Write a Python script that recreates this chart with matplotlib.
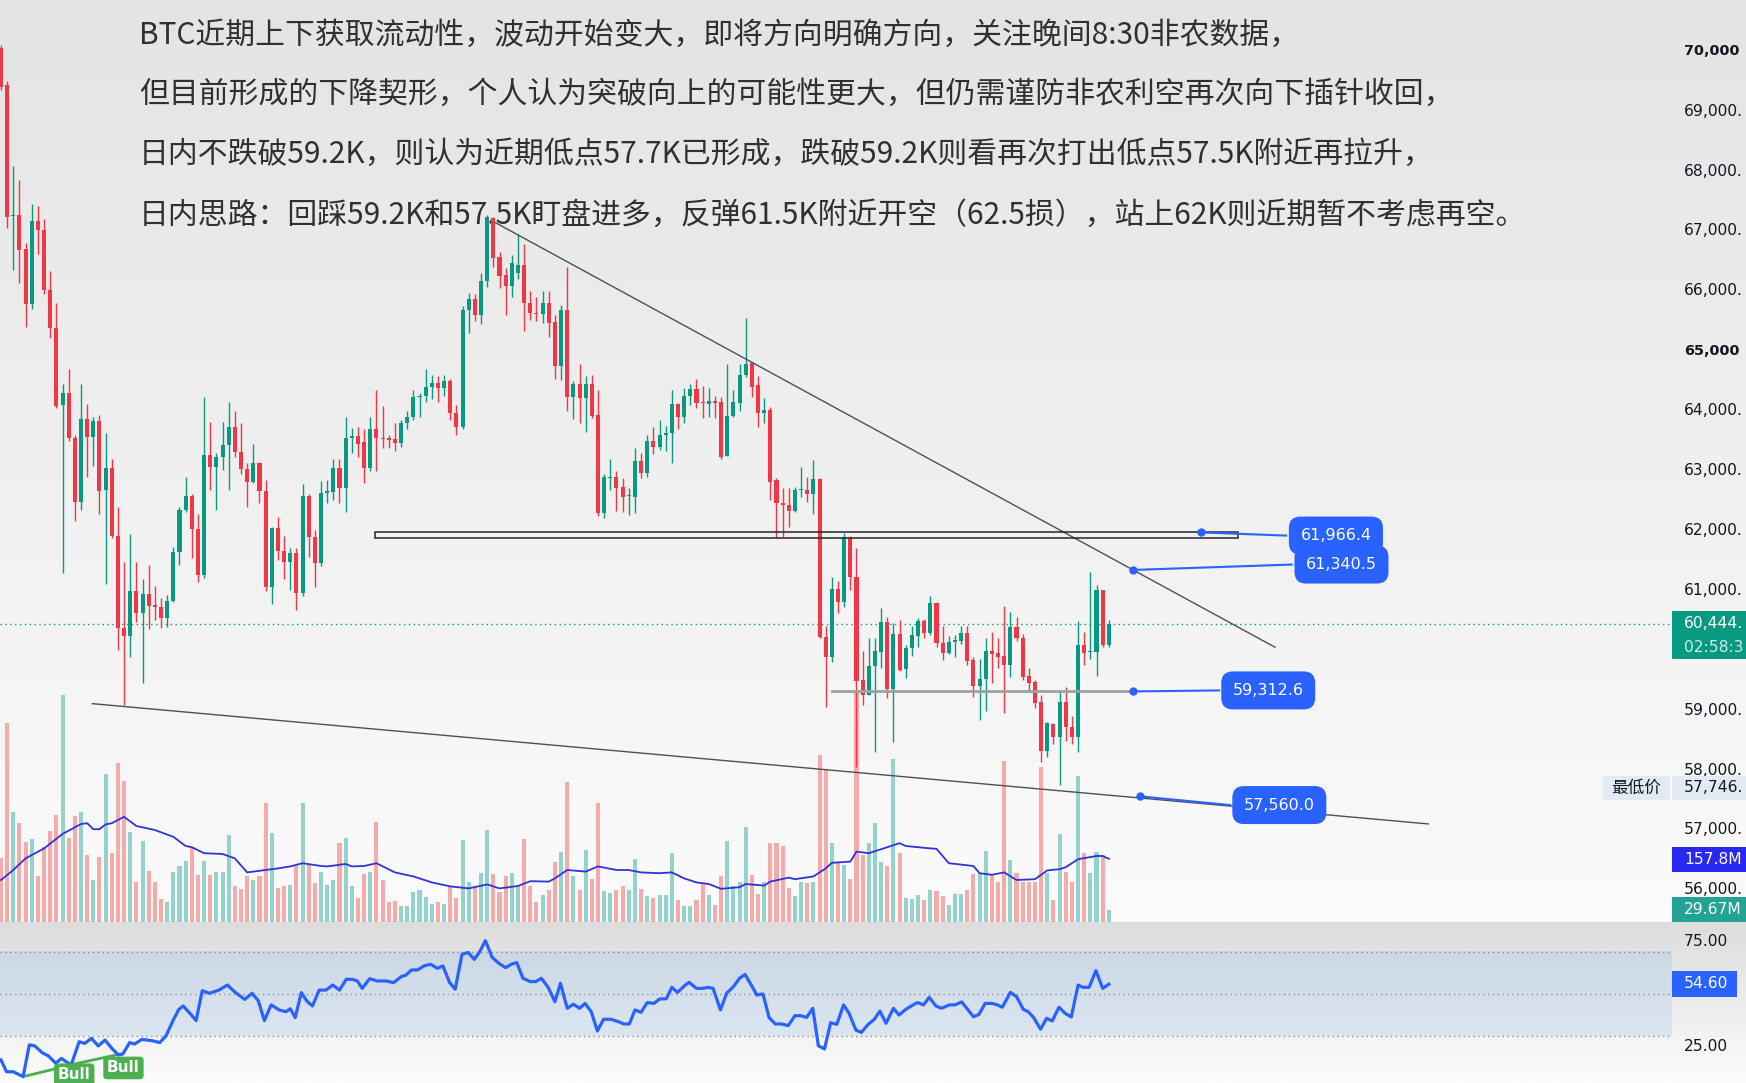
import numpy as np
import matplotlib
matplotlib.use("Agg")
import matplotlib.pyplot as plt
from matplotlib.patches import Rectangle

# ---- values: 1h BTC candles, volume (M), RSI ----
opens = [70060, 69436, 67250, 67269, 66696, 65785, 67173, 67012, 66020, 65381,
         64088, 64294, 63537, 62479, 63853, 63559, 63831, 62678, 63045, 61906,
         60363, 60231, 60988, 60621, 60936, 60761, 60716, 60533, 60819, 61634,
         62347, 62582, 62030, 61260, 63265, 63067, 63229, 63427, 63721, 63317,
         63030, 62810, 63133, 62655, 61061, 62038, 61663, 61480, 61617, 60961,
         62574, 61895, 61450, 62619, 62647, 63036, 62703, 63537, 63576, 63470,
         63036, 63693, 63540, 63537, 63520, 63453, 63799, 63899, 64222, 64244,
         64389, 64467, 64372, 64494, 63954, 63732, 65680, 65858, 65596, 66170,
         67210, 66570, 66264, 66080, 66300, 66430, 65802, 65630, 65615, 65802,
         65485, 64745, 65680, 64233, 64445, 64216, 64445, 63927, 62285, 62880,
         62897, 62720, 62570, 62564, 63159, 62964, 63493, 63398, 63593, 63621,
         64111, 63888, 64244, 64355, 64130, 64111, 64160, 64150, 63248, 63910,
         64133, 64595, 64790, 64428, 63955, 64011, 62842, 62463, 62425, 62330,
         62675, 62675, 62608, 62853, 60215, 59893, 61017, 60811, 61868, 61228,
         59503, 59252, 59737, 59976, 60477, 59353, 60271, 59687, 60043, 60243,
         60488, 60293, 60794, 60115, 59959, 60132, 60160, 60282, 59837, 59408,
         59520, 59987, 59948, 59904, 59753, 60382, 60209, 59570, 59470, 59135,
         58323, 58768, 58557, 59130, 58713, 58557, 60087, 59976, 59976, 61005,
         60087]
highs = [70100, 69509, 68077, 67856, 66800, 67452, 67416, 67195, 66328, 65800,
         64441, 64698, 63600, 64441, 64110, 63890, 63926, 63632, 63192, 62384,
         61465, 61943, 61465, 61187, 61428, 61070, 60878, 60930, 61723, 62384,
         62898, 62600, 62273, 64220, 63816, 63300, 63816, 64147, 64000, 63794,
         63118, 63449, 63140, 62846, 62052, 62218, 61900, 61700, 61700, 62769,
         62600, 62000, 62830, 62835, 63200, 63200, 63888, 63710, 63720, 63700,
         63900, 64340, 64078, 63600, 63800, 63850, 64000, 64350, 64300, 64700,
         64600, 64580, 64600, 64520, 64100, 65750, 65970, 65950, 66300, 67260,
         67230, 66640, 66380, 66600, 66950, 66780, 65999, 65900, 65999, 65999,
         65600, 65760, 66390, 64500, 64780, 64580, 64600, 64350, 62950, 63200,
         63000, 62880, 62700, 63380, 63300, 63600, 63720, 63840, 63750, 64347,
         64120, 64380, 64450, 64530, 64411, 64380, 64250, 64220, 64780, 64350,
         64770, 65545, 64800, 64570, 64217, 64060, 62880, 62700, 62700, 62720,
         63058, 62900, 63170, 62880, 60400, 61220, 61150, 61960, 61900, 61700,
         59993, 60200, 60200, 60700, 60550, 60460, 60500, 60090, 60400, 60530,
         60520, 60900, 60800, 60400, 60230, 60250, 60400, 60400, 59880, 59850,
         60200, 60300, 60210, 60740, 60640, 60560, 60270, 59700, 59500, 59250,
         58800, 58790, 59300, 59390, 58900, 60480, 60300, 61300, 61090, 61010,
         60500]
lows = [69350, 67048, 66350, 66130, 65395, 65700, 66608, 65950, 65212, 64036,
        61282, 63486, 62163, 62347, 62898, 63082, 62273, 61098, 61869, 59996,
        59078, 59886, 60474, 59445, 60348, 60510, 60363, 60385, 60800, 61428,
        62310, 61538, 61140, 61200, 62678, 62347, 63008, 62678, 63229, 62935,
        62384, 62790, 62457, 60988, 60767, 61500, 61186, 61005, 60670, 60900,
        61562, 61050, 61400, 62460, 62500, 62450, 62304, 63300, 63230, 62784,
        63000, 62990, 63370, 63370, 63330, 63400, 63700, 63850, 63900, 64150,
        64200, 64150, 64250, 63850, 63600, 63700, 65300, 65500, 65450, 66060,
        66400, 66050, 65600, 65900, 66200, 65330, 65520, 65500, 65460, 65230,
        64520, 64510, 64000, 63860, 63800, 63650, 63880, 62240, 62210, 62680,
        62330, 62300, 62260, 62290, 62870, 62900, 63270, 63340, 63330, 63120,
        63700, 63800, 64100, 64050, 63870, 63900, 63880, 63200, 63240, 63890,
        63990, 64560, 64230, 63730, 63800, 62500, 61870, 61890, 62050, 62300,
        62560, 62470, 62266, 60200, 59050, 59800, 60620, 60730, 61000, 58050,
        59080, 59250, 58300, 59700, 59200, 58460, 59660, 59530, 59900, 60060,
        60200, 60250, 60050, 59830, 59940, 59880, 60100, 59750, 59220, 58830,
        58980, 59450, 59700, 58950, 59560, 60150, 59500, 59300, 59040, 58140,
        58220, 58440, 57746, 58490, 58430, 58300, 59750, 59850, 59570, 60050,
        60050]
closes = [69400, 67232, 67270, 66681, 65785, 67158, 67012, 66020, 65381, 64073,
          64294, 63537, 62479, 63853, 63559, 63831, 62663, 63045, 61906, 60363,
          60231, 60988, 60621, 60936, 60746, 60716, 60533, 60819, 61634, 62347,
          62567, 62030, 61260, 63265, 63067, 63229, 63434, 63721, 63317, 63030,
          62810, 63133, 62655, 61061, 62038, 61663, 61480, 61617, 60961, 62574,
          61895, 61450, 62619, 62658, 63036, 62703, 63537, 63576, 63442, 63036,
          63693, 63537, 63520, 63510, 63453, 63799, 63899, 64222, 64244, 64389,
          64467, 64372, 64494, 63954, 63732, 65680, 65858, 65596, 66170, 67238,
          66542, 66247, 66080, 66470, 66430, 65802, 65624, 65615, 65802, 65468,
          64745, 65680, 64233, 64445, 64205, 64445, 63910, 62285, 62886, 62897,
          62703, 62564, 62580, 63159, 62964, 63493, 63398, 63593, 63632, 64111,
          63888, 64244, 64355, 64122, 64122, 64160, 64133, 63231, 63910, 64150,
          64595, 64779, 64400, 63966, 64011, 62814, 62452, 62425, 62330, 62675,
          62686, 62608, 62853, 60215, 59893, 61017, 60811, 61885, 61228, 59492,
          59252, 59737, 59987, 60477, 59353, 60271, 59670, 60043, 60254, 60488,
          60293, 60794, 60115, 59959, 60132, 60171, 60282, 59820, 59408, 59520,
          59987, 59937, 59893, 59753, 60382, 60198, 59558, 59458, 59124, 58323,
          58779, 58557, 59130, 58713, 58557, 60087, 59959, 59987, 61005, 60087,
          60444]
volumes = [159, 498, 276, 247, 201, 208, 114, 188, 228, 268,
           568, 211, 265, 276, 168, 104, 163, 370, 173, 397,
           353, 226, 99, 203, 128, 99, 57, 49, 124, 139,
           153, 188, 118, 153, 118, 124, 124, 218, 90, 83,
           115, 105, 115, 297, 223, 86, 89, 93, 143, 297,
           143, 97, 126, 93, 104, 197, 211, 89, 59, 119,
           124, 251, 105, 49, 53, 40, 40, 76, 80, 62,
           44, 49, 44, 89, 61, 205, 101, 89, 122, 230,
           119, 76, 114, 122, 89, 207, 90, 51, 68, 80,
           149, 176, 351, 114, 80, 180, 107, 297, 78, 72,
           80, 90, 80, 157, 82, 64, 59, 68, 68, 173,
           55, 39, 40, 54, 97, 68, 43, 114, 203, 89,
           101, 238, 118, 70, 101, 198, 197, 190, 84, 65,
           99, 97, 99, 418, 383, 198, 151, 143, 107, 575,
           168, 197, 247, 151, 139, 407, 172, 59, 57, 68,
           55, 80, 78, 64, 43, 70, 70, 80, 119, 122,
           178, 118, 101, 403, 155, 122, 101, 101, 101, 388,
           122, 55, 220, 126, 101, 365, 172, 122, 176, 168,
           30]
ma_idx = [0, 2, 4, 7, 10, 13, 14, 15, 16, 17, 18, 20, 22, 25, 28, 30, 31, 33, 36, 38,
          40, 43, 45, 47, 49, 52, 53, 56, 57, 59, 61, 64, 67, 70, 73, 76, 79, 81, 84, 86,
          89, 90, 92, 95, 97, 100, 102, 104, 107, 109, 111, 113, 115, 117, 120, 121, 124,
          125, 128, 129, 132, 134, 135, 138, 139, 141, 143, 146, 147, 151, 152, 154, 158,
          159, 161, 163, 165, 168, 170, 172, 173, 175, 178, 179, 180]
ma_vals = [105, 130, 159, 184, 220, 245, 247, 232, 232, 244, 247, 263, 240, 230, 213,
           190, 187, 172, 170, 159, 124, 130, 134, 139, 147, 140, 139, 145, 139, 140,
           147, 124, 114, 99, 89, 84, 94, 84, 90, 102, 101, 109, 130, 126, 139, 130,
           130, 124, 122, 124, 109, 99, 95, 83, 87, 95, 91, 101, 111, 107, 114, 134,
           148, 151, 176, 172, 182, 197, 190, 184, 183, 147, 140, 122, 118, 124, 105,
           107, 129, 132, 137, 157, 165, 165, 158]
rsi_x = [0, 0.9, 2.0, 3.6, 4.6, 5.5, 6.7, 7.7, 8.9, 9.8,
         11.4, 12.7, 13.6, 14.7, 15.8, 16.9, 18.0, 19.1, 19.8, 20.9,
         21.7, 22.9, 24.5, 25.8, 26.8, 28.0, 28.9, 29.6, 30.7, 31.7,
         32.7, 33.9, 35.4, 36.8, 37.9, 39.6, 40.8, 41.8, 42.8, 43.9,
         45.2, 46.3, 47.0, 47.8, 48.8, 49.7, 50.6, 51.7, 52.8, 53.9,
         55.0, 56.1, 57.1, 57.9, 58.7, 59.9, 61.1, 62.6, 63.8, 65.0,
         65.8, 66.7, 67.7, 68.7, 69.8, 70.9, 71.8, 72.9, 73.8, 74.9,
         75.9, 76.9, 77.8, 78.7, 79.8, 80.9, 82.0, 82.9, 83.8, 84.8,
         86.0, 86.9, 87.8, 88.9, 90.0, 90.9, 92.0, 93.0, 94.0, 94.9,
         95.9, 96.9, 97.9, 99.1, 100.3, 101.2, 102.1, 103.0, 104.0, 105.0,
         106.1, 107.0, 108.1, 109.0, 109.9, 111.2, 111.8, 113.0, 114.1, 114.9,
         115.7, 116.9, 117.9, 119.0, 120.0, 120.9, 122.0, 122.8, 123.8, 124.8,
         125.8, 126.8, 127.9, 129.0, 129.9, 130.9, 131.9, 132.8, 133.8, 134.8,
         135.8, 136.9, 137.8, 138.9, 139.8, 140.9, 141.9, 142.8, 143.8, 145.0,
         145.9, 147.1, 148.2, 148.9, 149.9, 150.8, 151.9, 152.8, 154.1, 155.0,
         156.1, 157.0, 158.0, 158.9, 159.9, 161.0, 161.9, 162.7, 164.0, 165.0,
         166.1, 166.9, 167.8, 168.9, 169.9, 170.8, 171.9, 172.9, 173.9, 175.0,
         175.8, 176.8, 177.9, 179.0, 180.0]
rsi_v = [18.8, 13.2, 13.2, 10.9, 25.9, 25.4, 22.2, 20.7, 17.2, 19.5,
         16.4, 27.4, 26.6, 29.0, 25.4, 28.2, 24.3, 21.1, 21.6, 27.0,
         26.3, 28.5, 27.9, 27.0, 30.1, 37.7, 42.7, 44.3, 40.8, 37.4,
         51.5, 50.3, 51.8, 54.2, 51.1, 47.4, 50.3, 46.8, 37.4, 44.8,
         42.4, 41.6, 43.0, 38.8, 50.6, 46.6, 44.3, 51.8, 51.8, 54.2,
         51.8, 56.9, 56.9, 56.1, 52.6, 57.2, 56.1, 56.1, 55.3, 58.1,
         58.9, 61.3, 61.3, 63.2, 64.0, 62.1, 63.2, 55.3, 52.2, 68.7,
         69.6, 66.3, 70.0, 75.2, 67.3, 64.4, 62.4, 64.0, 64.8, 57.4,
         55.8, 55.8, 57.4, 53.1, 46.3, 55.0, 43.2, 45.1, 43.2, 45.5,
         41.6, 32.5, 38.0, 38.0, 36.9, 35.8, 35.8, 42.4, 41.3, 45.9,
         45.5, 47.6, 47.7, 53.1, 50.7, 54.2, 55.5, 52.6, 52.6, 53.1,
         52.6, 42.4, 50.3, 53.4, 57.4, 59.2, 53.7, 49.5, 50.0, 38.8,
         35.8, 35.8, 35.0, 39.7, 39.7, 38.9, 43.2, 25.5, 24.0, 36.4,
         35.6, 44.8, 40.8, 32.9, 31.8, 35.6, 38.0, 41.9, 36.1, 43.2,
         40.0, 42.9, 44.8, 45.9, 44.8, 48.4, 44.3, 43.2, 44.8, 44.8,
         46.2, 42.9, 39.2, 40.3, 45.5, 45.5, 44.8, 43.7, 50.7, 48.7,
         42.7, 41.6, 38.8, 33.3, 38.5, 37.2, 43.7, 40.8, 39.1, 54.2,
         53.1, 53.1, 61.0, 52.6, 54.6]

price_ticks = list(range(70000, 55999, -1000))
rsi_ticks = [75, 25]
last_price = "60,444."
countdown = "02:58:3"
low_price = "57,746."
vol_ma_last = "157.8M"
vol_last = "29.67M"
rsi_last = 54.60
level_prices = [61966.4, 61340.5, 59312.6, 57560.0]

notes = [
    "BTC近期上下获取流动性，波动开始变大，即将方向明确方向，关注晚间8:30非农数据，",
    "但目前形成的下降契形，个人认为突破向上的可能性更大，但仍需谨防非农利空再次向下插针收回，",
    "日内不跌破59.2K，则认为近期低点57.7K已形成，跌破59.2K则看再次打出低点57.5K附近再拉升，",
    "日内思路：回踩59.2K和57.5K盯盘进多，反弹61.5K附近开空（62.5损），站上62K则近期暂不考虑再空。",
]

# ---- layout (pixels of the 1746x1083 picture) ----
W, H = 1746, 1083
PR, MB, RT = 1672, 922, 924
XL = (-0.16, 271.5)
YL = (55463, 70855)
RL = (7.89, 83.03)
UP, DN = "#089981", "#f23645"
CJK = ["Noto Sans CJK SC", "DejaVu Sans"]
AXFS = 11.2
LX = 1684 / W


def fy(y):
    return 1 - y / H


def price_y(p):
    return 51.2 + (70000 - p) * 0.0599


def rsi_y(r):
    return 941 + (75 - r) * 2.116


fig = plt.figure(figsize=(W / 100, H / 100), dpi=100)

# background gradients
bg = fig.add_axes([0, 0, 1, 1], zorder=0)
shade = np.concatenate([np.linspace(228, 251, MB), np.linspace(221, 252, H - MB)]) / 255
grad = np.repeat(shade[:, None, None], 3, axis=2)
bg.imshow(grad, aspect="auto", extent=(0, 1, 0, 1), interpolation="bilinear")
bg.set_xlim(0, 1)
bg.set_ylim(0, 1)
bg.axis("off")

pos_main = [0, fy(MB), PR / W, MB / H]
axv = fig.add_axes(pos_main, zorder=1)
ax = fig.add_axes(pos_main, zorder=2)
axr = fig.add_axes([0, 0, PR / W, (H - RT) / H], zorder=1)
for a in (axv, ax, axr):
    a.set_facecolor("none")
    a.axis("off")
    a.set_xlim(*XL)

o, h, l, c = map(np.array, (opens, highs, lows, closes))
x = np.arange(len(o))
up = c >= o

# volume overlay
axv.bar(x, volumes, width=0.66, color=np.where(up, "#93d3cc", "#f6aaa9"), lw=0)
axv.plot(ma_idx, ma_vals, color="#3232d6", lw=1.3)
axv.set_ylim(0, 2305)

# candles
cc = np.where(up, UP, DN)
ax.vlines(x, l, h, colors=cc, lw=1.0, zorder=2)
ax.bar(x, np.maximum(np.abs(c - o), 14), bottom=np.minimum(o, c), width=0.66,
       color=cc, lw=0, zorder=2)
ax.set_ylim(*YL)
ax.axhline(c[-1], color=UP, lw=1, ls=(0, (1, 2.5)), zorder=1)

# drawings
ax.plot([80.3, 207], [67140, 60050], color="#505050", lw=1.0, zorder=3)
ax.plot([14.85, 231.9], [59108, 57100], color="#505050", lw=1.0, zorder=3)
ax.add_patch(Rectangle((60.8, 61880), 140.2, 86, fill=False, ec="#262626", lw=1.1, zorder=3))
ax.plot([135, 184], [59312.6, 59312.6], color="#a0a0a0", lw=2, zorder=3)

dot_x = [194.9, 184.0, 184.0, 185.1]
box_left = [(208.8, 61914), (209.7, 61430), (197.9, 59329), (199.7, 57415)]
box_cx = [216.9, 217.8, 205.9, 207.7]
for p, dx, (bx, by), cx in zip(level_prices, dot_x, box_left, box_cx):
    ax.plot([dx, bx], [p, by], color="#2962ff", lw=1.5, zorder=4)
    ax.plot(dx, p, "o", ms=5, color="#2962ff", zorder=4)
    ax.text(cx, by, f"{p:,.1f}", color="white", fontsize=11.5, ha="center", va="center",
            zorder=5, bbox=dict(boxstyle="round,pad=0.72", fc="#2962ff", ec="none"))

# RSI pane
band = np.linspace([203, 216, 228], [220, 230, 241], 64)[:, None, :] / 255
axr.imshow(band, aspect="auto", extent=(XL[0], XL[1], 30, 70), interpolation="bilinear", zorder=0)
for v in (70, 50, 30):
    axr.axhline(v, color="#8a8d96", lw=1, ls=(0, (1, 2.5)), zorder=1)
axr.plot(rsi_x, rsi_v, color="#2962ff", lw=2.3, solid_joinstyle="round", zorder=3)
axr.plot([3.6, 11.4], [10.9, 16.4], color="#4caf50", lw=2, zorder=2)
axr.plot([11.2, 19.4], [16.4, 21.6], color="#4caf50", lw=2, zorder=2)
for bx, by in [(11.9, 11.8), (19.9, 15.0)]:
    axr.text(bx, by, "Bull", color="white", fontsize=11, fontweight="bold", ha="center",
             va="center", zorder=4, clip_on=False,
             bbox=dict(boxstyle="round,pad=0.25", fc="#4caf50", ec="none"))
axr.set_xlim(*XL)
axr.set_ylim(*RL)

# note text behind the candles
for s, yy in zip(notes, [35.6, 94.6, 154.8, 214.9]):
    fig.text(139 / W, fy(yy), s, fontsize=21.5, color="#303030", va="center",
             family=CJK, zorder=0.5)

# right price scale (labels run into the picture's edge like in the screenshot)
for p in price_ticks:
    bold = p in (70000, 65000)
    fig.text(LX, fy(price_y(p)), f"{p:,}" if bold else f"{p:,}.",
             fontsize=10.4 if bold else AXFS, color="#131722", va="center", zorder=4,
             fontweight="bold" if bold else "normal")
for r in rsi_ticks:
    fig.text(LX, fy(rsi_y(r)), f"{r:.2f}", fontsize=AXFS, color="#131722",
             va="center", zorder=4)


def side_box(x0, y0, x1, y1, fc):
    fig.add_artist(Rectangle((x0 / W, fy(y1)), (x1 - x0) / W, (y1 - y0) / H,
                             transform=fig.transFigure, fc=fc, ec="none", zorder=5))


side_box(PR, 611, W, 659, UP)
fig.text(LX, fy(624), last_price, fontsize=AXFS, color="white", va="center", zorder=6)
fig.text(LX, fy(647), countdown, fontsize=AXFS, color="#cdeee8", va="center", zorder=6)

side_box(1603, 776, 1670, 800, "#e3eaf4")
side_box(PR, 776, W, 800, "#e3eaf4")
fig.text(1636 / W, fy(788), "最低价", fontsize=12, color="#131722", va="center",
         ha="center", family=CJK, zorder=6)
fig.text(LX, fy(788), low_price, fontsize=AXFS, color="#131722", va="center", zorder=6)

side_box(PR, 847, W, 872, "#2828f0")
fig.text(LX, fy(859.5), vol_ma_last, fontsize=AXFS, color="white", va="center", zorder=6)
side_box(PR, 897, W, 922, "#22a394")
fig.text(LX, fy(909.5), vol_last, fontsize=AXFS, color="white", va="center", zorder=6)

side_box(PR, 971, 1737, 997, "#2962ff")
fig.text(LX, fy(984), f"{rsi_last:.2f}", fontsize=AXFS, color="white", va="center", zorder=6)

fig.savefig("out.png", dpi=100)
